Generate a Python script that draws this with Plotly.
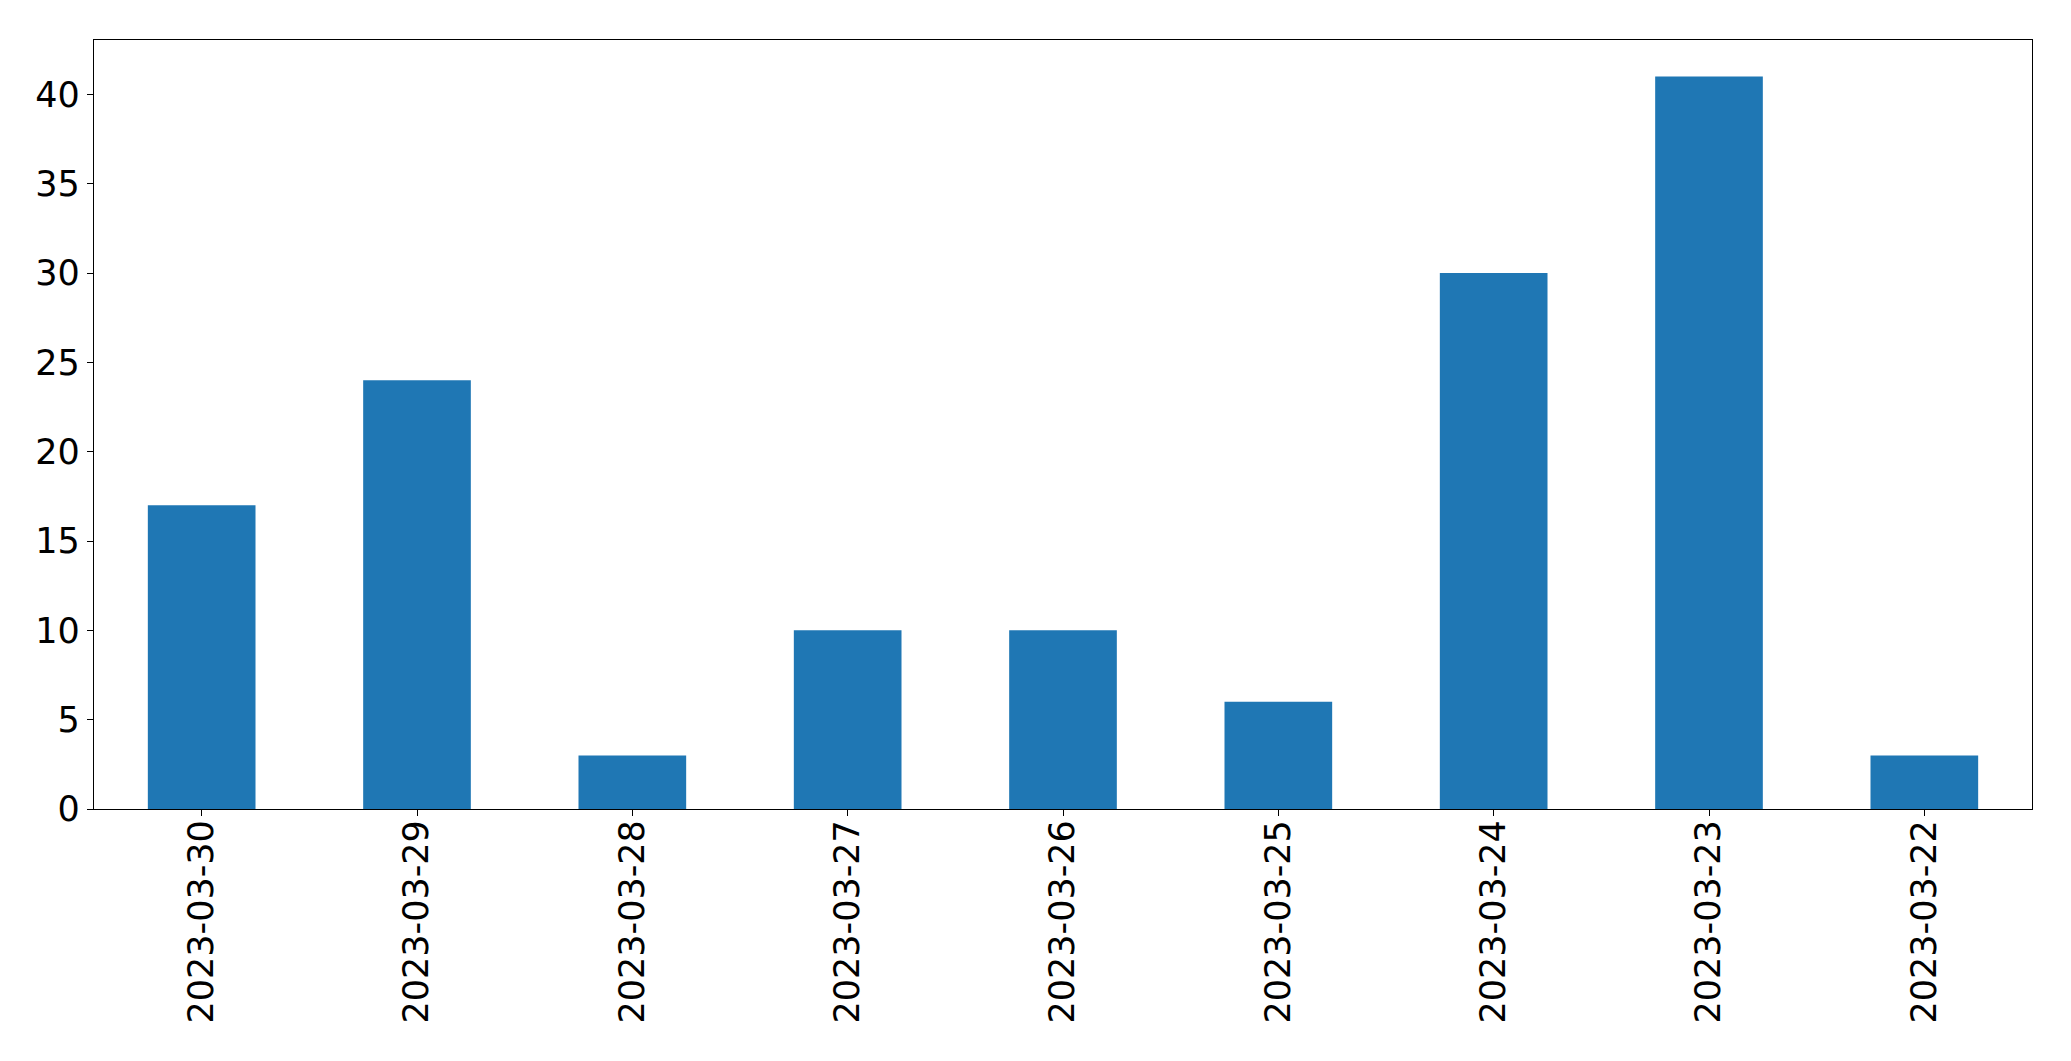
import plotly.graph_objects as go

dates = ["2023-03-30", "2023-03-29", "2023-03-28", "2023-03-27", "2023-03-26",
         "2023-03-25", "2023-03-24", "2023-03-23", "2023-03-22"]
counts = [17, 24, 3, 10, 10, 6, 30, 41, 3]
ytick_vals = [0, 5, 10, 15, 20, 25, 30, 35, 40]

fig = go.Figure(go.Bar(x=dates, y=counts, width=0.5, marker=dict(color="#1f77b4", line=dict(width=0))))

fig.update_layout(
    width=2071, height=1061,
    margin=dict(l=94, r=39, t=40, b=252, autoexpand=False),
    plot_bgcolor="white", paper_bgcolor="white",
    font=dict(family="DejaVu Sans", size=34, color="black"),
    showlegend=False,
)
fig.update_xaxes(
    type="category", range=[-0.5, 8.5], automargin=False,
    showline=True, linecolor="black", linewidth=1.3, mirror=True,
    ticks="outside", ticklen=6, tickcolor="black", tickwidth=1.3,
    tickangle=-90, showgrid=False, tickfont=dict(size=35), ticklabelstandoff=-10,
)
fig.update_yaxes(
    range=[0, 43.05], tickvals=ytick_vals, automargin=False,
    showline=True, linecolor="black", linewidth=1.3, mirror=True,
    ticks="outside", ticklen=6, tickcolor="black", tickwidth=1.3,
    showgrid=False, zeroline=False, tickfont=dict(size=35), ticklabelstandoff=0,
)
fig.write_html("out.html", config={"displayModeBar": False},
               post_script="document.body.style.margin='0';document.body.style.overflow='hidden';")
